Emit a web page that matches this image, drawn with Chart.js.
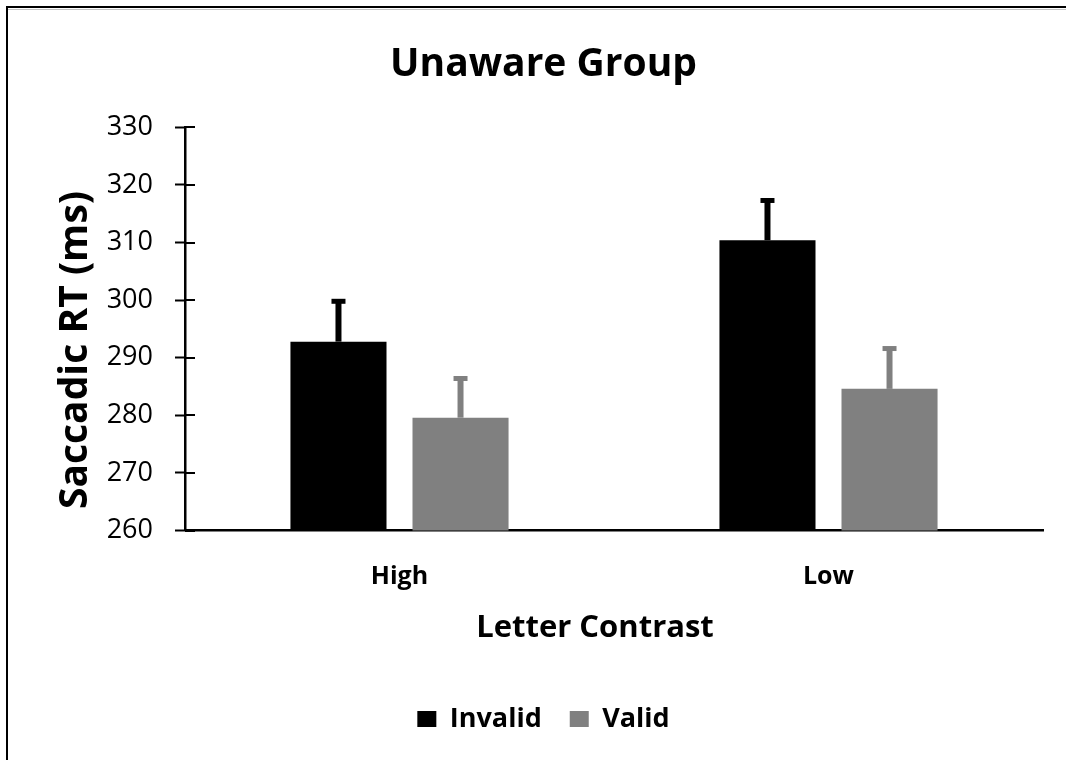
<!DOCTYPE html>
<html>
<head>
<meta charset="utf-8">
<title>Unaware Group</title>
<script src="https://cdn.jsdelivr.net/npm/chart.js@4/dist/chart.umd.min.js"></script>
<style>
  html, body { margin: 0; padding: 0; background: #fff; overflow: hidden; }
  #wrap { position: relative; width: 1066px; height: 760px; overflow: hidden; }
  #chart { position: absolute; left: 0; top: 0; }
  #frame {
    position: absolute; left: 6px; top: 6px; width: 1100px; height: 800px;
    border-left: 2px solid #000; border-top: 2px solid #000; pointer-events: none;
  }
  #frame::after {
    content: ""; position: absolute; left: 0; right: 0; top: 1px; height: 1px; background: #c4c4c4;
  }
</style>
</head>
<body>
<div id="wrap">
  <canvas id="chart" width="1066" height="760"></canvas>
  <div id="frame"></div>
</div>
<script>
// Saccadic reaction times by letter contrast and cue validity
const categories = ['High', 'Low'];
const invalidRT = [292.8, 310.4];
const validRT = [279.6, 284.6];
const invalidErr = [7.0, 6.9];
const validErr = [6.8, 7.0];
const yTickValues = [260, 270, 280, 290, 300, 310, 320, 330];

const chartTitle = 'Unaware Group';
const xTitle = 'Letter Contrast';
const yTitle = 'Saccadic RT (ms)';

const FONT = '"Open Sans", "DejaVu Sans", sans-serif';

// Positive-only error bars with a flat cap, drawn through the y scale
const errorBars = {
  id: 'errorBars',
  afterDatasetsDraw(chart) {
    const { ctx, scales: { y } } = chart;
    chart.data.datasets.forEach((ds, i) => {
      const meta = chart.getDatasetMeta(i);
      meta.data.forEach((bar, j) => {
        const top = y.getPixelForValue(ds.data[j] + ds.errors[j]);
        ctx.save();
        ctx.strokeStyle = ds.backgroundColor;
        ctx.lineWidth = 6;
        ctx.beginPath();
        ctx.moveTo(bar.x, bar.y);
        ctx.lineTo(bar.x, top);
        ctx.stroke();
        ctx.lineWidth = 5;
        ctx.beginPath();
        ctx.moveTo(bar.x - 7, top);
        ctx.lineTo(bar.x + 7, top);
        ctx.stroke();
        ctx.restore();
      });
    });
  }
};

// Y tick marks cross the axis line; Chart.js draws the outer half
const innerTicks = {
  id: 'innerTicks',
  afterDraw(chart) {
    const { ctx, chartArea, scales: { y } } = chart;
    ctx.save();
    ctx.strokeStyle = '#000';
    ctx.lineWidth = 2;
    y.ticks.forEach(t => {
      const py = Math.round(y.getPixelForValue(t.value));
      ctx.beginPath();
      ctx.moveTo(chartArea.left, py);
      ctx.lineTo(chartArea.left + 10, py);
      ctx.stroke();
    });
    ctx.restore();
  }
};

// Axis titles: rotated y title and the x title, placed in the margins
const axisTitles = {
  id: 'axisTitles',
  afterDraw(chart) {
    const { ctx } = chart;
    ctx.save();
    ctx.fillStyle = '#000';
    ctx.textAlign = 'center';
    ctx.textBaseline = 'middle';

    ctx.font = 'bold 31px ' + FONT;
    ctx.fillText(xTitle, 595, 628);

    ctx.translate(76, 350);
    ctx.rotate(-Math.PI / 2);
    ctx.font = 'bold 39px ' + FONT;
    ctx.fillText(yTitle, 0, 0);
    ctx.restore();
  }
};

new Chart(document.getElementById('chart'), {
  type: 'bar',
  data: {
    labels: categories,
    datasets: [
      { label: 'Invalid', data: invalidRT, errors: invalidErr, backgroundColor: '#000000' },
      { label: 'Valid', data: validRT, errors: validErr, backgroundColor: '#808080' }
    ]
  },
  options: {
    responsive: false,
    devicePixelRatio: 1,
    animation: false,
    categoryPercentage: 0.569,
    barPercentage: 0.787,
    layout: { padding: { left: 44, right: 23, top: 0, bottom: 17.4 } },
    plugins: {
      title: {
        display: true,
        text: chartTitle,
        color: '#000',
        font: { family: FONT, size: 39, weight: 'bold', lineHeight: 1.2 },
        padding: { top: 41, bottom: 39.5 }
      },
      legend: {
        position: 'bottom',
        labels: {
          color: '#000',
          font: { family: FONT, size: 27, weight: 'bold' },
          boxWidth: 19,
          boxHeight: 16,
          padding: 28
        }
      },
      tooltip: { enabled: false }
    },
    scales: {
      x: {
        afterFit(scale) {
          scale.height = 147;
        },
        grid: { display: false, drawTicks: false },
        border: { display: true, color: '#000', width: 2.5 },
        ticks: {
          color: '#000',
          font: { family: FONT, size: 25, weight: 'bold', lineHeight: 1.2 },
          padding: 31
        }
      },
      y: {
        min: 260,
        max: 330,
        afterBuildTicks(scale) {
          scale.ticks = yTickValues.map(v => ({ value: v }));
        },
        afterFit(scale) {
          scale.width = 141;
        },
        grid: { drawOnChartArea: false, drawTicks: true, tickLength: 10, tickColor: '#000', tickWidth: 2 },
        border: { display: true, color: '#000', width: 2.5 },
        ticks: {
          color: '#000',
          font: { family: FONT, size: 27 },
          padding: 22
        }
      }
    }
  },
  plugins: [errorBars, innerTicks, axisTitles]
});
</script>
</body>
</html>
